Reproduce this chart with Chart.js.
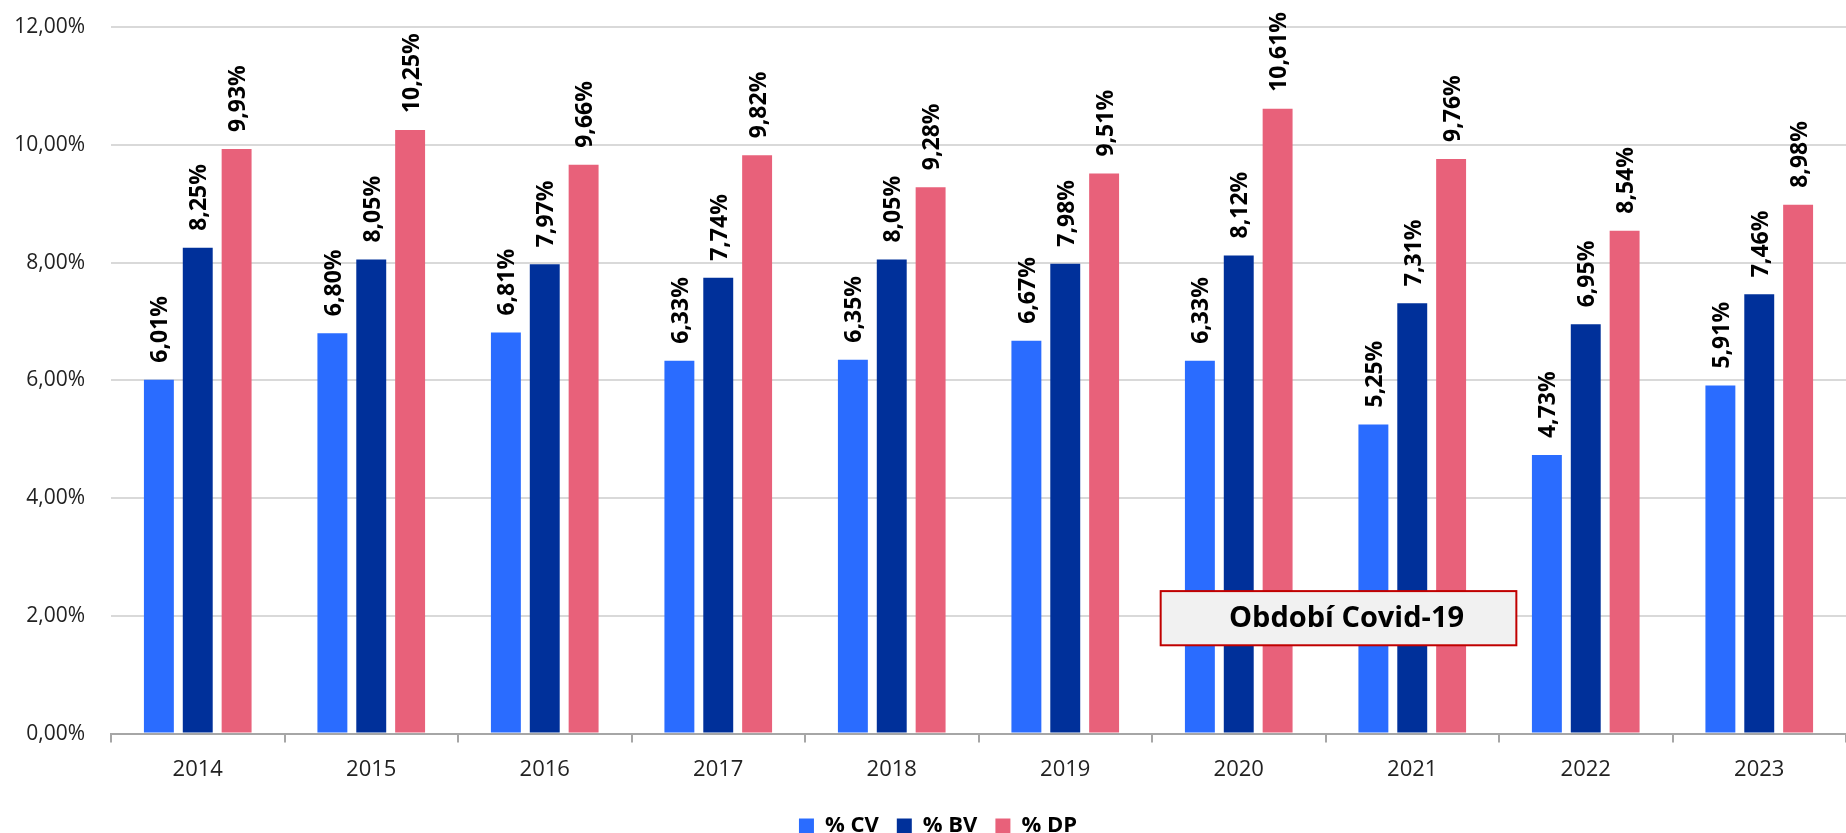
<!DOCTYPE html>
<html>
<head>
<meta charset="utf-8">
<script src="https://cdn.jsdelivr.net/npm/chart.js@4.4.0/dist/chart.umd.min.js"></script>
<style>
    html, body { margin: 0; padding: 0; background: #fff; }
    #wrap { width: 1846px; height: 833px; }
</style>
</head>
<body>
<div id="wrap"><canvas id="chart"></canvas></div>
<script>
const years = ['2014', '2015', '2016', '2017', '2018', '2019', '2020', '2021', '2022', '2023'];
const cvValues = [6.01, 6.80, 6.81, 6.33, 6.35, 6.67, 6.33, 5.25, 4.73, 5.91];
const bvValues = [8.25, 8.05, 7.97, 7.74, 8.05, 7.98, 8.12, 7.31, 6.95, 7.46];
const dpValues = [9.93, 10.25, 9.66, 9.82, 9.28, 9.51, 10.61, 9.76, 8.54, 8.98];
const yTickLabels = ['0,00%', '2,00%', '4,00%', '6,00%', '8,00%', '10,00%', '12,00%'];
const covidText = 'Období Covid-19';
// box spans in data units (category index / percent)
const covidX = [5.55, 7.6];
const covidY = [1.5, 2.42];

const FONT = '"Open Sans", "Noto Sans", sans-serif';

function fmt(v) {
    return v.toFixed(2).replace('.', ',') + '%';
}

const barLabels = {
    id: 'barLabels',
    afterDatasetsDraw(chart) {
        const ctx = chart.ctx;
        ctx.save();
        ctx.font = 'bold 23px ' + FONT;
        ctx.fillStyle = '#000';
        ctx.textAlign = 'left';
        ctx.textBaseline = 'middle';
        chart.data.datasets.forEach((ds, i) => {
            chart.getDatasetMeta(i).data.forEach((bar, j) => {
                ctx.save();
                ctx.translate(bar.x + 2, bar.y - 17);
                ctx.rotate(-Math.PI / 2);
                ctx.fillText(fmt(ds.data[j]), 0, 0);
                ctx.restore();
            });
        });
        ctx.restore();
    }
};

const covidBox = {
    id: 'covidBox',
    afterDraw(chart) {
        const x = chart.scales.x, y = chart.scales.y;
        const ctx = chart.ctx;
        const left = x.getPixelForValue(covidX[0]);
        const right = x.getPixelForValue(covidX[1]);
        const top = y.getPixelForValue(covidY[1]);
        const bottom = y.getPixelForValue(covidY[0]);
        ctx.save();
        ctx.fillStyle = '#f1f1f1';
        ctx.fillRect(left, top, right - left, bottom - top);
        ctx.strokeStyle = '#c00000';
        ctx.lineWidth = 2;
        ctx.strokeRect(left, top, right - left, bottom - top);
        ctx.font = 'bold 29px ' + FONT;
        ctx.fillStyle = '#000';
        ctx.textAlign = 'center';
        ctx.textBaseline = 'middle';
        ctx.fillText(covidText, (left + right) / 2 + 8, (top + bottom) / 2 + 1);
        ctx.restore();
    }
};

// nudge the legend a little right, as in the original
const legendShift = {
    id: 'legendShift',
    afterLayout(chart) {
        chart.legend.left += 15;
        chart.legend.right += 15;
    }
};

const ctx = document.getElementById('chart').getContext('2d');
new Chart(ctx, {
    type: 'bar',
    data: {
        labels: years,
        datasets: [
            { label: '% CV', data: cvValues, backgroundColor: '#2a6cff' },
            { label: '% BV', data: bvValues, backgroundColor: '#00309a' },
            { label: '% DP', data: dpValues, backgroundColor: '#e8617a' }
        ]
    },
    options: {
        responsive: true,
        maintainAspectRatio: false,
        animation: false,
        categoryPercentage: 0.672,
        barPercentage: 0.77,
        layout: { padding: { top: 27, right: 0, left: 0, bottom: -14 } },
        plugins: {
            legend: {
                position: 'bottom',
                labels: {
                    boxWidth: 15,
                    boxHeight: 15,
                    padding: 18,
                    color: '#000',
                    font: { family: FONT, size: 22, weight: 'bold' }
                }
            },
            tooltip: { enabled: false }
        },
        scales: {
            x: {
                grid: {
                    display: true,
                    drawOnChartArea: false,
                    tickLength: 9,
                    color: '#a6a6a6',
                    lineWidth: 2
                },
                border: { color: '#a6a6a6', width: 2 },
                ticks: {
                    color: '#222',
                    padding: 14,
                    font: { family: FONT, size: 22 }
                }
            },
            y: {
                min: 0,
                max: 12,
                ticks: {
                    stepSize: 2,
                    color: '#222',
                    padding: 26,
                    font: { family: FONT, size: 21 },
                    callback: (v) => yTickLabels[Math.round(v / 2)]
                },
                grid: { color: '#d9d9d9', lineWidth: 2, drawTicks: false },
                border: { display: false },
                afterFit: (s) => { s.width = 111; s.paddingTop = 0; }
            }
        }
    },
    plugins: [barLabels, covidBox, legendShift]
});
</script>
</body>
</html>
